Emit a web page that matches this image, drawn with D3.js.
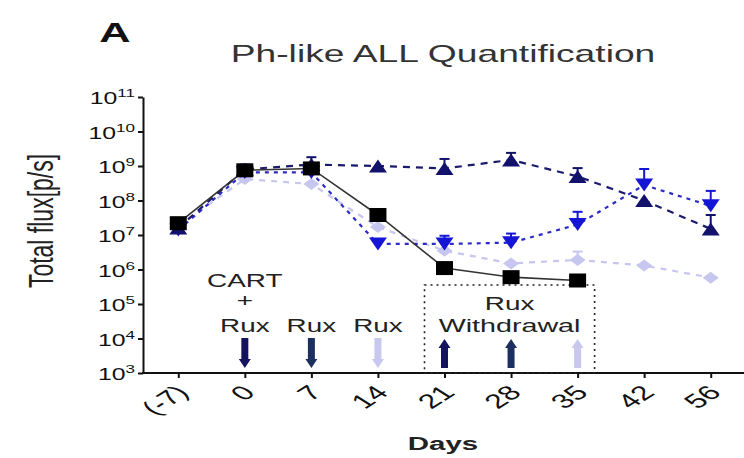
<!DOCTYPE html>
<html>
<head>
<meta charset="utf-8">
<script src="https://cdn.jsdelivr.net/npm/d3@7"></script>
<style>
  body { margin: 0; background: #fff; }
  svg { display: block; font-family: "Liberation Sans", Arial, sans-serif; }
</style>
</head>
<body>
<div id="chart"></div>
<script>
// days on the x axis
const days = ['(-7)', '0', '7', '14', '21', '28', '35', '42', '56'];
const yTicks = [1e3, 1e4, 1e5, 1e6, 1e7, 1e8, 1e9, 1e10, 1e11];

// total flux per group (mean, upper error)
const squareFlux = [2.2e7, 7.5e8, 8.5e8, 3.8e7, 1.1e6, 6e5, 4.8e5, null, null];
const squareErr = [null, 1.0e9, 1.1e9, 5.5e7, null, 7e5, null, null, null];
const upFlux = [1.6e7, 8e8, 1.1e9, 1.0e9, 8.5e8, 1.5e9, 5e8, 1e8, 1.5e7];
const upErr = [null, 1.1e9, 1.8e9, null, 1.6e9, 2.4e9, 8.7e8, null, 3.8e7];
const downFlux = [1.4e7, 6.5e8, 6.5e8, 5.5e6, 5.5e6, 6e6, 2e7, 2.8e8, 7e7];
const downErr = [null, null, null, null, 9.5e6, 1.1e7, 4.7e7, 8.2e8, 1.9e8];
const diamondFlux = [1.8e7, 4.2e8, 3e8, 1.7e7, 3.5e6, 1.5e6, 1.9e6, 1.3e6, 5.8e5];
const diamondErr = [null, null, null, null, null, null, 3.3e6, null, null];

// treatment arrows
const ruxDays = ['0', '7', '14'];
const withdrawalDays = ['21', '28', '35'];

const width = 744, height = 458;
const SX = 1.55; // horizontal stretch applied to all text

const svg = d3.select('#chart').append('svg')
  .attr('width', width)
  .attr('height', height);

const x = d3.scalePoint().domain(days).range([145, 744]).padding(0.5);
const y = d3.scaleLog().domain([1e3, 1e11]).range([373, 97]);

function label(g, px, py, str, size, opts = {}) {
  const t = g.append('text')
    .attr('transform', `translate(${px},${py}) scale(${opts.sx || SX},1)` + (opts.rotate ? ` rotate(${opts.rotate})` : ''))
    .attr('text-anchor', opts.anchor || 'middle')
    .attr('font-size', size)
    .attr('font-weight', opts.bold ? 'bold' : 'normal')
    .attr('fill', opts.fill || '#222')
    .text(str);
  if (opts.dy) t.attr('dy', opts.dy);
  return t;
}

// panel letter and title
label(svg, 115, 42, 'A', 28, { bold: true, fill: '#111' });
label(svg, 443, 62, 'Ph-like ALL Quantification', 24, { fill: '#333' });

// y axis
const yAxis = svg.append('g')
  .attr('transform', 'translate(143,0)')
  .call(d3.axisLeft(y).tickValues(yTicks).tickSize(5).tickSizeOuter(0).tickFormat(''));
yAxis.selectAll('path, line').attr('stroke', '#111').attr('stroke-width', 2);

yTicks.forEach(v => {
  const t = label(svg, 135, y(v) + 7, '', 16, { anchor: 'end', fill: '#111' });
  t.append('tspan').text('10');
  t.append('tspan').attr('font-size', 11).attr('dy', -7).text(Math.round(Math.log10(v)));
});

label(svg, 53, 221, 'Total flux[p/s]', 23, { rotate: -90, fill: '#222' });

// x axis
const xAxis = svg.append('g')
  .attr('transform', 'translate(0,373)')
  .call(d3.axisBottom(x).tickSize(5).tickFormat(''));
xAxis.select('.domain').remove();
xAxis.selectAll('line').attr('stroke', '#111').attr('stroke-width', 2);
svg.append('line')
  .attr('x1', 142).attr('x2', 744)
  .attr('y1', 373).attr('y2', 373)
  .attr('stroke', '#111').attr('stroke-width', 2);

days.forEach(d => {
  label(svg, x(d) - 4, 384, d, 20, { anchor: 'end', rotate: -45, dy: '0.7em', fill: '#111', sx: 1.6 });
});
label(svg, 443, 450, 'Days', 19, { bold: true, fill: '#222' });

// withdrawal box
const boxL = x('21') - 20, boxR = x('35') + 17;
svg.append('rect')
  .attr('x', boxL).attr('y', 285)
  .attr('width', boxR - boxL).attr('height', 373 - 285)
  .attr('fill', 'none')
  .attr('stroke', '#222')
  .attr('stroke-width', 1.6)
  .attr('stroke-dasharray', '2,4');

// annotations
label(svg, x('0'), 287, 'CART', 18);
label(svg, x('0'), 307, '+', 18);
ruxDays.forEach(d => label(svg, x(d), 332, 'Rux', 18));
label(svg, (boxL + boxR) / 2, 310, 'Rux', 18);
label(svg, (boxL + boxR) / 2, 332, 'Withdrawal', 18.5);

const arrowColors = ['#14145e', '#1c2f5e', '#c8c8ee'];
function arrow(cx, top, bottom, dir, color) {
  const sw = 3.5, hw = 6, hh = 9;
  let pts;
  if (dir === 'down') {
    pts = [[cx - sw, top], [cx + sw, top], [cx + sw, bottom - hh], [cx + hw, bottom - hh],
      [cx, bottom], [cx - hw, bottom - hh], [cx - sw, bottom - hh]];
  } else {
    pts = [[cx - sw, bottom], [cx + sw, bottom], [cx + sw, top + hh], [cx + hw, top + hh],
      [cx, top], [cx - hw, top + hh], [cx - sw, top + hh]];
  }
  svg.append('path')
    .attr('d', d3.line()(pts) + 'Z')
    .attr('fill', color);
}
ruxDays.forEach((d, i) => arrow(x(d), 338, 368, 'down', arrowColors[i]));
withdrawalDays.forEach((d, i) => arrow(x(d), 339, 368, 'up', arrowColors[i]));

// series
const shapes = {
  square: (w, h) => `M${-w / 2},${-h / 2}H${w / 2}V${h / 2}H${-w / 2}Z`,
  up: (w, h) => `M0,${-h / 2}L${w / 2},${h / 2}H${-w / 2}Z`,
  down: (w, h) => `M0,${h / 2}L${w / 2},${-h / 2}H${-w / 2}Z`,
  diamond: (w, h) => `M0,${-h / 2}L${w / 2},0L0,${h / 2}L${-w / 2},0Z`
};

const series = [
  { vals: diamondFlux, err: diamondErr, shape: 'diamond', color: '#c6c6ef', line: '#c6c6ef', dash: '6,6', w: 16, h: 12 },
  { vals: downFlux, err: downErr, shape: 'down', color: '#1515d6', line: '#2b2bc8', dash: '4,5', w: 18, h: 13 },
  { vals: upFlux, err: upErr, shape: 'up', color: '#12126c', line: '#1b1b6e', dash: '7,6', w: 18, h: 13 },
  { vals: squareFlux, err: squareErr, shape: 'square', color: '#000', line: '#333', dash: null, w: 17, h: 14 }
];

const lineGen = d3.line()
  .defined(d => d.v != null)
  .x(d => x(d.day))
  .y(d => y(d.v));

series.forEach(s => {
  const pts = days.map((day, i) => ({ day, v: s.vals[i], e: s.err[i] }));
  const g = svg.append('g');
  g.append('path')
    .attr('d', lineGen(pts))
    .attr('fill', 'none')
    .attr('stroke', s.line)
    .attr('stroke-width', s.dash ? 2.2 : 1.6)
    .attr('stroke-dasharray', s.dash);
  const withErr = pts.filter(p => p.v != null && p.e != null);
  g.selectAll('.whisker').data(withErr).join('line')
    .attr('x1', p => x(p.day)).attr('x2', p => x(p.day))
    .attr('y1', p => y(p.v)).attr('y2', p => y(p.e))
    .attr('stroke', s.color).attr('stroke-width', 2);
  g.selectAll('.cap').data(withErr).join('line')
    .attr('x1', p => x(p.day) - 5).attr('x2', p => x(p.day) + 5)
    .attr('y1', p => y(p.e)).attr('y2', p => y(p.e))
    .attr('stroke', s.color).attr('stroke-width', 2);
  g.selectAll('.mark').data(pts.filter(p => p.v != null)).join('path')
    .attr('transform', p => `translate(${x(p.day)},${y(p.v)})`)
    .attr('d', shapes[s.shape](s.w, s.h))
    .attr('fill', s.color);
});
</script>
</body>
</html>
